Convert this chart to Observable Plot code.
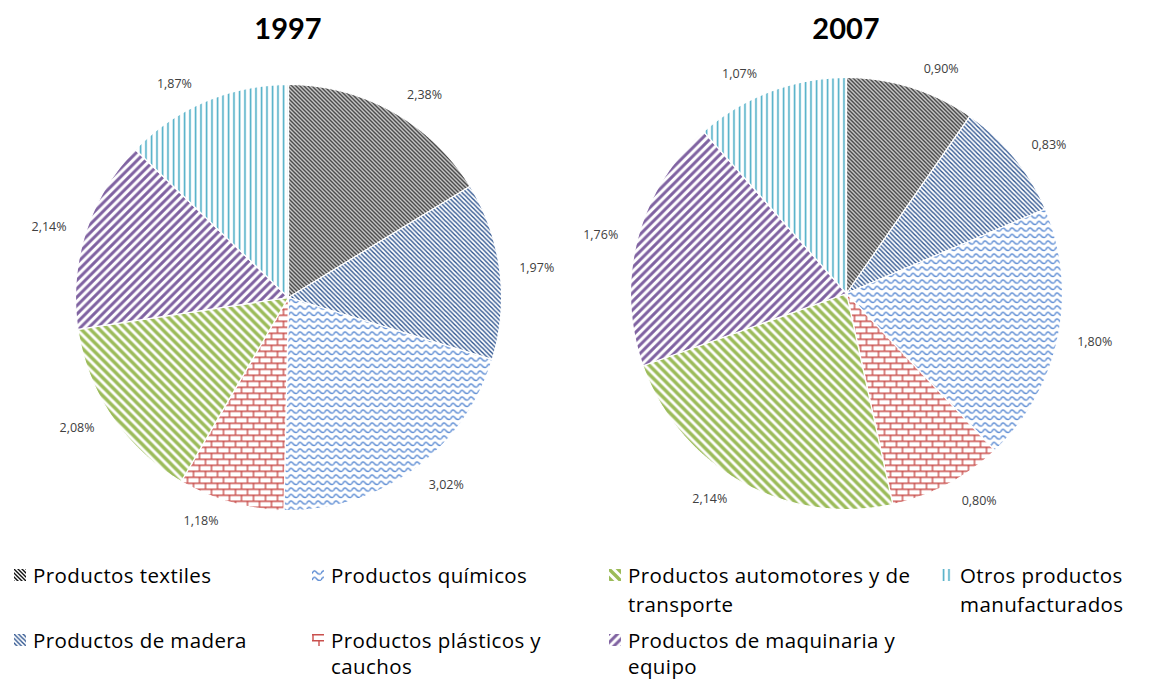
<!DOCTYPE html>
<html>
<head>
<meta charset="utf-8">
<script src="https://cdn.jsdelivr.net/npm/d3@7"></script>
<script src="https://cdn.jsdelivr.net/npm/@observablehq/plot@0.6"></script>
<style>
  html, body { margin: 0; padding: 0; background: #fff; }
  #root { position: relative; width: 1154px; height: 679px; overflow: hidden; font-family: "Open Sans", Lato, sans-serif; }
  .title { position: absolute; top: 8px; width: 200px; text-align: center; font-family: Lato, sans-serif; font-weight: bold; font-size: 29px; color: #000; line-height: 40px; }
  .pie { position: absolute; top: 50px; }
  .leg { position: absolute; font-size: 20.5px; letter-spacing: 0.4px; color: #000; }
  .leg .mk { position: absolute; left: -19px; width: 12px; height: 12px; }
</style>
</head>
<body>
<svg width="0" height="0" style="position:absolute">
  <defs>
    <pattern id="pat0" patternUnits="userSpaceOnUse" width="4" height="4">
      <rect width="4" height="4" fill="#fff"/>
      <path d="M-1,-1L5,5M-1,3L1,5M3,-1L5,1" stroke="#111" stroke-width="1.4"/>
    </pattern>
    <pattern id="pat1" patternUnits="userSpaceOnUse" width="4.5" height="4.5">
      <rect width="4.5" height="4.5" fill="#fff"/>
      <path d="M-1,-1L5.5,5.5M-1,3.5L1,5.5M3.5,-1L5.5,1" stroke="#2f5590" stroke-width="1.4"/>
    </pattern>
    <pattern id="pat2" patternUnits="userSpaceOnUse" width="9" height="6.5">
      <rect width="9" height="6.5" fill="#fff"/>
      <path d="M0,4.6C1.5,1.2 3,1.2 4.5,3.2S7.5,5.4 9,4.6" fill="none" stroke="#5b8bd3" stroke-width="1.4"/>
    </pattern>
    <pattern id="pat3" patternUnits="userSpaceOnUse" width="12" height="12">
      <rect width="12" height="12" fill="#fff"/>
      <path d="M0,0.75H12M0,6.75H12M1,0.75V6.75M7,6.75V12" stroke="#c9504d" stroke-width="1.4" fill="none"/>
    </pattern>
    <pattern id="pat4" patternUnits="userSpaceOnUse" width="9" height="9">
      <rect width="9" height="9" fill="#fff"/>
      <path d="M-2,-2L11,11M-2,7L2,11M7,-2L11,2" stroke="#9bbb59" stroke-width="3.4"/>
    </pattern>
    <pattern id="pat5" patternUnits="userSpaceOnUse" width="8.5" height="8.5">
      <rect width="8.5" height="8.5" fill="#fff"/>
      <path d="M-2,10.5L10.5,-2M-2,2L2,-2M6.5,10.5L10.5,6.5" stroke="#7f62a1" stroke-width="3"/>
    </pattern>
    <pattern id="pat6" patternUnits="userSpaceOnUse" width="5.5" height="5">
      <rect width="5.5" height="5" fill="#fff"/>
      <path d="M2.5,-1V6" stroke="#4bacc6" stroke-width="1.6"/>
    </pattern>
  </defs>
</svg>
<div id="root"></div>
<script>
const categories = [
  "Productos textiles",
  "Productos de madera",
  "Productos químicos",
  "Productos plásticos y cauchos",
  "Productos automotores y de transporte",
  "Productos de maquinaria y equipo",
  "Otros productos manufacturados"
];
const years = ["1997", "2007"];
const values1997 = [2.38, 1.97, 3.02, 1.18, 2.08, 2.14, 1.87];
const values2007 = [0.90, 0.83, 1.80, 0.80, 2.14, 1.76, 1.07];

const root = document.getElementById("root");
const fmt = v => v.toFixed(2).replace(".", ",") + "%";

function makePie(values, cx, cy, r, W, H) {
  const arcs = d3.pie().sort(null).value(d => d)(values);
  const sliceMarks = arcs.map((a, i) => {
    const pts = [{x: 0, y: 0}];
    const n = Math.max(2, Math.ceil((a.endAngle - a.startAngle) / 0.004));
    for (let k = 0; k <= n; k++) {
      const t = a.startAngle + (a.endAngle - a.startAngle) * k / n;
      pts.push({x: Math.sin(t), y: -Math.cos(t)});
    }
    pts.push({x: 0, y: 0});
    return Plot.line(pts, {x: "x", y: "y", fill: `url(#pat${i})`, stroke: "#fff", strokeWidth: 1.2, curve: "linear"});
  });
  const labels = arcs.map((a) => {
    const t = (a.startAngle + a.endAngle) / 2;
    const s = Math.sin(t), c = Math.cos(t);
    const hx = 27 * Math.max(-1, Math.min(1, 4 * s));
    const hy = 9 * c;
    return {
      x: (r + 10) / r * s + hx / r,
      y: -(r + 10) / r * c - hy / r,
      text: fmt(a.data)
    };
  });
  return Plot.plot({
    width: W, height: H, margin: 0,
    style: {fontFamily: "'Open Sans', Lato, sans-serif", background: "transparent"},
    x: {domain: [-cx / r, (W - cx) / r], range: [0, W], axis: null},
    y: {domain: [-cy / r, (H - cy) / r], range: [0, H], axis: null},
    marks: [
      ...sliceMarks,
      Plot.text(labels, {x: "x", y: "y", text: "text", fontSize: 12.5, fill: "#404040", textAnchor: "middle"})
    ]
  });
}

const pieTop = 50;
const specs = [
  {values: values1997, left: 0, cx: 288, cy: 297, r: 213},
  {values: values2007, left: 577, cx: 846, cy: 293, r: 216}
];
specs.forEach((sp, i) => {
  const t = document.createElement("div");
  t.className = "title";
  t.textContent = years[i];
  t.style.left = (sp.cx - 100) + "px";
  root.appendChild(t);
  const div = document.createElement("div");
  div.className = "pie";
  div.style.left = sp.left + "px";
  div.appendChild(makePie(sp.values, sp.cx - sp.left, sp.cy - pieTop, sp.r, 577, 500));
  root.appendChild(div);
});

// legend: column-major, 2 rows
const colX = [33, 331, 628, 960];
const colW = [270, 262, 305, 192];
const rowCenter = [575, 640];
const rowLH = [29, 26];
categories.forEach((name, i) => {
  const col = Math.floor(i / 2), row = i % 2;
  const lh = rowLH[row];
  const d = document.createElement("div");
  d.className = "leg";
  d.style.left = colX[col] + "px";
  d.style.top = (rowCenter[row] - lh / 2) + "px";
  d.style.width = colW[col] + "px";
  d.style.lineHeight = lh + "px";
  d.innerHTML = `<svg class="mk" style="top:${lh / 2 - 6}px" viewBox="0 0 12 12"><rect width="12" height="12" fill="url(#pat${i})"/></svg>`;
  d.appendChild(document.createTextNode(name));
  root.appendChild(d);
});
</script>
</body>
</html>
